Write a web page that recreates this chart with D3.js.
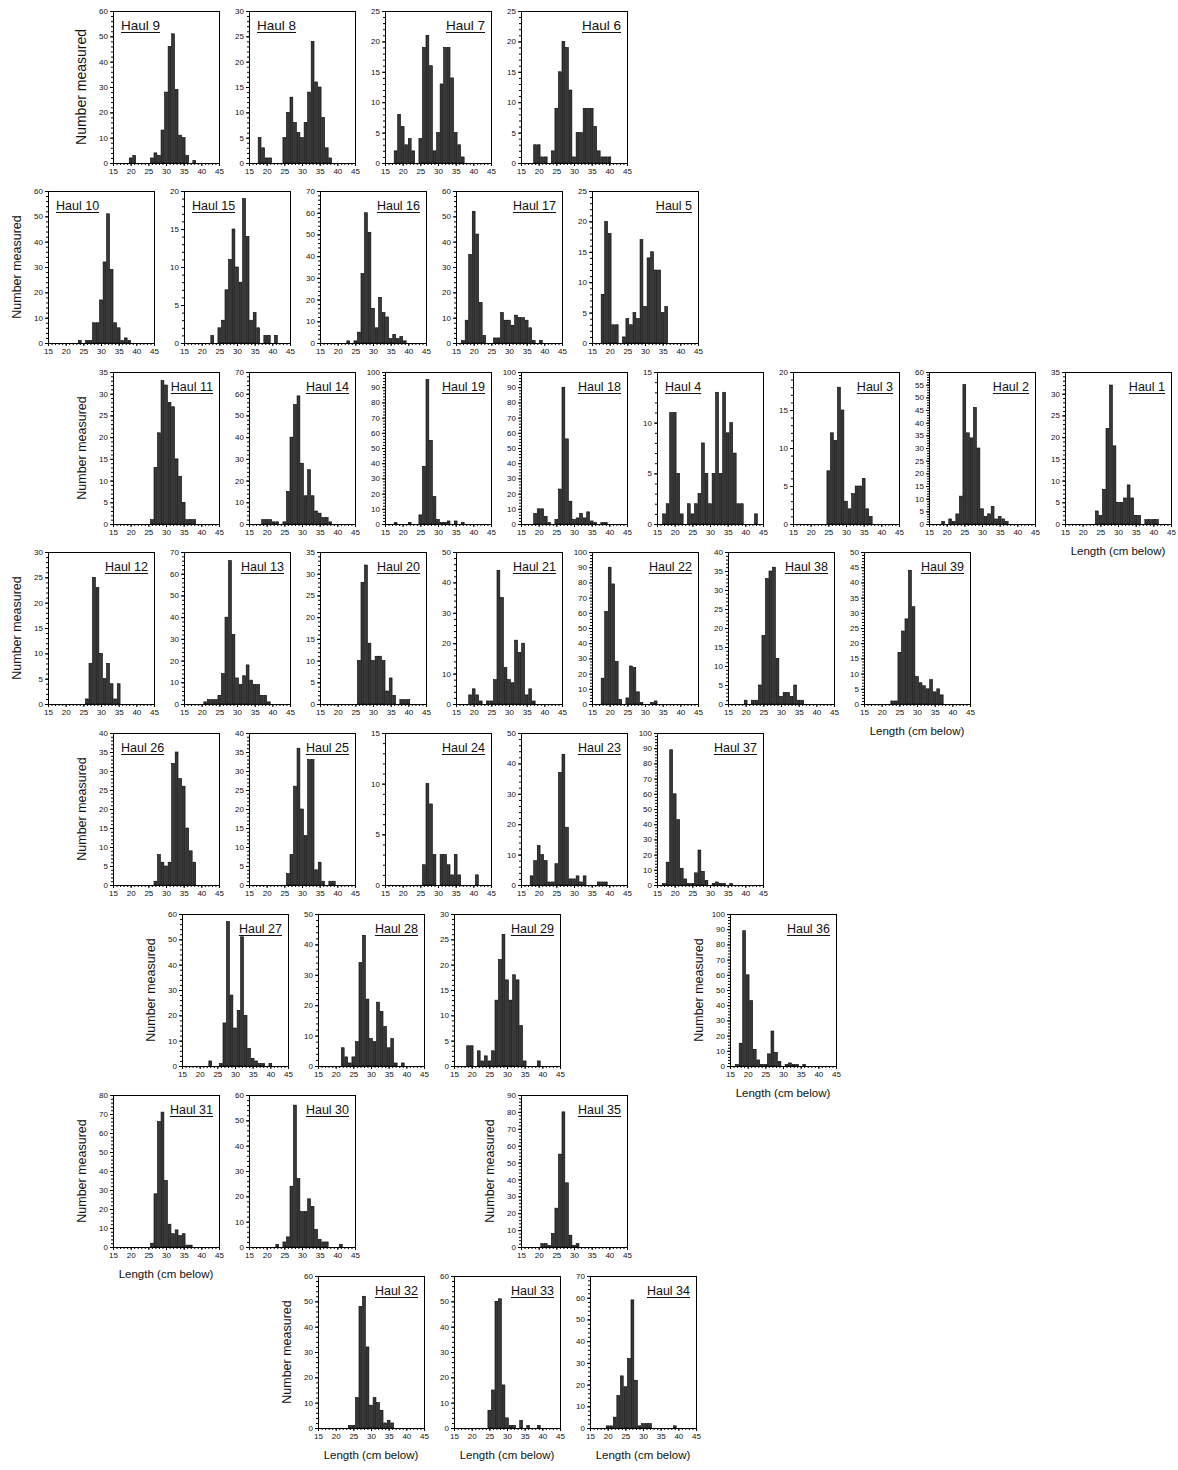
<!DOCTYPE html>
<html>
<head>
<meta charset="utf-8">
<script src="https://cdn.jsdelivr.net/npm/d3@7"></script>
<style>
  body { margin: 0; background: #fff; }
  svg { display: block; }
  text { font-family: "Liberation Sans", Arial, sans-serif; fill: #111; }
</style>
</head>
<body>
<svg id="chart" width="1178" height="1470"></svg>
<script>
// haul order, as the panels appear (row by row)
const hauls = [9, 8, 7, 6, 10, 15, 16, 17, 5, 11, 14, 19, 18, 4, 3, 2, 1,
  12, 13, 20, 21, 22, 38, 39, 26, 25, 24, 23, 37, 27, 28, 29, 36, 31, 30, 35, 32, 33, 34];

// y axis maximum and tick step per haul (same order)
const yMax = [60, 30, 25, 25, 60, 20, 70, 60, 25, 35, 70, 100, 100, 15, 20, 60, 35,
  30, 70, 35, 50, 100, 40, 50, 40, 40, 15, 50, 100, 60, 50, 30, 100, 80, 60, 90, 60, 60, 70];
const yStep = [10, 5, 5, 5, 10, 5, 10, 10, 5, 5, 10, 10, 10, 5, 5, 5, 5,
  5, 10, 5, 10, 10, 5, 5, 5, 5, 5, 10, 10, 10, 10, 5, 10, 10, 10, 10, 10, 10, 10];

// number measured per length class (cm), [length, count]
const counts = [
  [[20,2],[21,3],[26,2],[27,4],[28,3],[29,13],[30,28],[31,46],[32,51],[33,29],[34,11],[35,10],[36,3],[38,1]],
  [[18,5],[19,3],[20,1],[21,1],[25,5],[26,10],[27,13],[28,8],[29,6],[30,5],[31,8],[32,14],[33,24],[34,16],[35,15],[36,9],[37,3],[38,1]],
  [[18,2],[19,8],[20,6],[21,3],[22,4],[23,2],[25,4],[26,19],[27,21],[28,16],[29,2],[30,5],[31,13],[32,19],[33,19],[34,14],[35,5],[36,3],[37,1]],
  [[19,3],[20,3],[21,1],[22,1],[24,2],[25,9],[26,15],[27,20],[28,19],[29,12],[30,1],[31,5],[32,5],[33,9],[34,9],[35,9],[36,6],[37,2],[38,1],[39,1],[40,1]],
  [[24,1],[26,1],[27,1],[28,8],[29,8],[30,17],[31,32],[32,51],[33,29],[34,8],[35,6],[36,1],[37,2],[38,1]],
  [[23,1],[25,2],[26,3],[27,7],[28,11],[29,15],[30,10],[31,8],[32,19],[33,14],[34,3],[35,4],[36,2],[38,1],[39,1],[41,1]],
  [[23,1],[25,1],[26,5],[27,32],[28,60],[29,51],[30,16],[31,7],[32,21],[33,14],[34,12],[35,2],[36,4],[37,2],[38,3],[39,1]],
  [[17,1],[18,9],[19,35],[20,52],[21,43],[22,16],[23,3],[26,2],[27,2],[28,12],[29,9],[30,9],[31,7],[32,11],[33,10],[34,10],[35,9],[36,6],[37,1],[39,1]],
  [[18,8],[19,20],[20,18],[21,3],[22,3],[24,1],[25,4],[26,3],[27,5],[28,4],[29,17],[30,6],[31,14],[32,15],[33,12],[34,12],[35,5],[36,6]],
  [[26,1],[27,13],[28,21],[29,33],[30,32],[31,28],[32,27],[33,15],[34,11],[35,5],[36,1],[37,1],[38,1]],
  [[19,2],[20,2],[21,2],[22,1],[23,1],[25,1],[26,15],[27,40],[28,55],[29,59],[30,28],[31,13],[32,25],[33,13],[34,6],[35,5],[36,3],[37,3],[38,1]],
  [[18,1],[22,1],[25,6],[26,38],[27,95],[28,55],[29,18],[30,3],[31,1],[32,1],[33,2],[35,2],[37,1]],
  [[19,7],[20,10],[21,10],[22,5],[23,1],[25,3],[26,23],[27,90],[28,56],[29,15],[30,3],[31,4],[32,7],[33,4],[34,8],[35,2],[36,1],[38,1],[39,1]],
  [[17,1],[18,2],[19,11],[20,11],[21,5],[22,1],[24,2],[25,1],[26,2],[27,3],[28,8],[29,5],[30,2],[31,5],[32,13],[33,5],[34,13],[35,9],[36,10],[37,7],[38,2],[39,2],[43,1]],
  [[25,7],[26,12],[27,11],[28,18],[29,15],[30,3],[31,2],[32,4],[33,5],[34,5],[35,6],[36,2],[37,1]],
  [[19,1],[21,2],[22,1],[23,4],[24,11],[25,55],[26,36],[27,34],[28,46],[29,30],[30,6],[31,3],[32,4],[33,7],[34,2],[35,3],[36,2],[37,1]],
  [[24,3],[25,2],[26,8],[27,22],[28,32],[29,18],[30,5],[31,5],[32,6],[33,9],[34,6],[35,2],[36,2],[38,1],[39,1],[40,1],[41,1]],
  [[26,1],[27,8],[28,25],[29,23],[30,10],[31,5],[32,8],[33,4],[34,1],[35,4]],
  [[21,1],[22,2],[23,2],[24,2],[25,4],[26,14],[27,40],[28,66],[29,32],[30,12],[31,9],[32,13],[33,18],[34,11],[35,9],[36,9],[37,4],[38,4],[39,1]],
  [[26,10],[27,28],[28,32],[29,14],[30,10],[31,11],[32,11],[33,10],[34,3],[35,6],[36,2],[38,1],[39,1],[40,1]],
  [[19,3],[20,5],[21,3],[22,1],[24,1],[25,1],[26,8],[27,44],[28,35],[29,12],[30,8],[31,7],[32,21],[33,17],[34,20],[35,3],[36,5],[37,1]],
  [[18,17],[19,61],[20,90],[21,79],[22,28],[23,3],[25,4],[26,25],[27,24],[28,8],[29,1],[32,1],[33,2]],
  [[20,1],[22,1],[23,1],[24,5],[25,18],[26,33],[27,35],[28,36],[29,12],[30,2],[31,3],[32,3],[33,2],[34,5],[35,1],[36,1]],
  [[23,1],[24,1],[25,17],[26,24],[27,28],[28,44],[29,32],[30,9],[31,7],[32,6],[33,5],[34,8],[35,4],[36,5],[37,3]],
  [[27,1],[28,8],[29,6],[30,5],[31,6],[32,32],[33,35],[34,28],[35,26],[36,15],[37,9],[38,6]],
  [[26,3],[27,8],[28,26],[29,36],[30,20],[31,13],[32,33],[33,33],[34,4],[35,6],[36,1],[38,1],[39,1]],
  [[26,2],[27,10],[28,8],[29,3],[31,3],[32,3],[33,2],[34,1],[35,3],[36,1],[41,1]],
  [[18,3],[19,8],[20,13],[21,10],[22,8],[23,1],[24,1],[25,7],[26,37],[27,43],[28,19],[29,2],[30,2],[31,3],[32,1],[33,3],[37,1],[38,1],[39,1]],
  [[17,1],[18,15],[19,89],[20,60],[21,43],[22,11],[23,4],[24,1],[25,1],[26,8],[27,23],[28,9],[29,3],[31,1],[32,2],[33,1],[34,1],[36,1]],
  [[23,2],[26,1],[27,17],[28,57],[29,28],[30,15],[31,22],[32,51],[33,20],[34,7],[35,3],[36,2],[37,1],[38,1],[40,1]],
  [[22,6],[23,3],[24,1],[25,3],[26,8],[27,34],[28,43],[29,22],[30,9],[31,8],[32,21],[33,18],[34,13],[35,6],[36,9],[37,1],[39,1]],
  [[19,4],[20,4],[22,3],[23,1],[24,2],[25,1],[26,3],[27,13],[28,21],[29,26],[30,17],[31,13],[32,18],[33,17],[34,8],[35,1],[39,1]],
  [[17,1],[18,15],[19,89],[20,60],[21,43],[22,11],[23,4],[24,1],[25,1],[26,8],[27,23],[28,9],[29,3],[31,1],[32,2],[33,1],[34,1],[36,1]],
  [[26,2],[27,28],[28,66],[29,71],[30,35],[31,12],[32,7],[33,9],[34,6],[35,7],[36,1],[37,1]],
  [[23,1],[25,2],[26,4],[27,24],[28,56],[29,27],[30,14],[31,14],[32,19],[33,16],[34,7],[35,3],[36,2],[37,2],[41,1]],
  [[21,2],[22,2],[23,1],[24,8],[25,23],[26,55],[27,80],[28,38],[29,7],[30,1],[31,2]],
  [[24,1],[25,1],[26,12],[27,48],[28,52],[29,32],[30,9],[31,12],[32,10],[33,7],[34,2],[35,3],[36,2]],
  [[25,7],[26,15],[27,50],[28,51],[29,17],[30,4],[31,1],[32,1],[34,3],[36,1],[39,1]],
  [[20,1],[21,1],[22,5],[23,15],[24,24],[25,19],[26,32],[27,59],[28,22],[29,1],[30,2],[31,2],[32,2],[39,1]]
];

const xTicks = [15, 20, 25, 30, 35, 40, 45];
const yTitle = "Number measured";
const xTitle = "Length (cm below)";

// hauls whose label sits at the top left, and panels carrying axis titles
const labelLeft = new Set([9, 8, 10, 15, 4, 26]);
const withYTitle = new Set([9, 10, 11, 12, 26, 27, 36, 31, 35, 32]);
const withXTitle = new Set([1, 39, 36, 31, 32, 33, 34]);

// layout: row tops and panel left edges
const W = 106, H = 152;
const rows = [
  { top: 11,   lefts: [113, 249, 385, 521] },
  { top: 191,  lefts: [48, 184, 320, 456, 592] },
  { top: 372,  lefts: [113, 249, 385, 521, 657, 793, 929, 1065] },
  { top: 552,  lefts: [48, 184, 320, 456, 592, 728, 864] },
  { top: 733,  lefts: [113, 249, 385, 521, 657] },
  { top: 914,  lefts: [182, 318, 454, 730] },
  { top: 1095, lefts: [113, 249, 521] },
  { top: 1276, lefts: [318, 454, 590] }
];

const svg = d3.select("#chart");
const x = d3.scaleLinear().domain([15, 45]).range([0, W]);
const barW = x(15.8) - x(15);

let idx = 0;
rows.forEach((row, r) => {
  row.lefts.forEach(left => {
    const i = idx++;
    const haul = hauls[i];
    const y = d3.scaleLinear().domain([0, yMax[i]]).range([H, 0]);
    const g = svg.append("g").attr("transform", `translate(${left},${row.top})`);
    const big = r === 0;

    // minor ticks
    g.append("g")
        .attr("transform", `translate(0,${H})`)
        .call(d3.axisBottom(x).tickValues(d3.range(15, 46)).tickSize(2).tickFormat(""))
        .call(a => a.select(".domain").remove());
    g.append("g")
        .call(d3.axisLeft(y).tickValues(d3.range(0, yMax[i] + 0.01, yStep[i] / 5)).tickSize(2).tickFormat(""))
        .call(a => a.select(".domain").remove());

    // major ticks + labels
    g.append("g")
        .attr("transform", `translate(0,${H})`)
        .call(d3.axisBottom(x).tickValues(xTicks).tickSize(3).tickPadding(2))
        .call(a => a.select(".domain").remove())
        .call(a => a.selectAll("text").attr("font-size", 8).attr("fill", "#222"));
    g.append("g")
        .call(d3.axisLeft(y).tickValues(d3.range(0, yMax[i] + 0.01, yStep[i])).tickSize(3).tickPadding(2))
        .call(a => a.select(".domain").remove())
        .call(a => a.selectAll("text").attr("font-size", 8).attr("fill", "#222"));

    g.append("rect")
        .attr("x", 0.5).attr("y", 0.5)
        .attr("width", W).attr("height", H)
        .attr("fill", "none").attr("stroke", "#000").attr("stroke-width", 1);

    g.append("g").selectAll("rect")
      .data(counts[i])
      .join("rect")
        .attr("x", d => x(d[0]) - barW / 2)
        .attr("y", d => y(d[1]))
        .attr("width", barW)
        .attr("height", d => H - y(d[1]))
        .attr("fill", "#383838")
        .attr("stroke", "#000")
        .attr("stroke-width", 0.6);

    // haul label, underlined
    const left_ = labelLeft.has(haul);
    const fs = big ? 13.5 : 12.5;
    const lbl = g.append("text")
        .attr("x", left_ ? 8 : W - 6)
        .attr("y", 19)
        .attr("text-anchor", left_ ? "start" : "end")
        .attr("font-size", fs)
        .text(`Haul ${haul}`);
    const len = lbl.node().getComputedTextLength();
    const ux = left_ ? 8 : W - 6 - len;
    g.append("line")
        .attr("x1", ux).attr("x2", ux + len)
        .attr("y1", 21.5).attr("y2", 21.5)
        .attr("stroke", "#111").attr("stroke-width", 1);

    if (withYTitle.has(haul)) {
      g.append("text")
          .attr("transform", `translate(-27,${H / 2}) rotate(-90)`)
          .attr("text-anchor", "middle")
          .attr("font-size", big ? 14 : 12.5)
          .text(yTitle);
    }
    if (withXTitle.has(haul)) {
      g.append("text")
          .attr("x", W / 2)
          .attr("y", H + 31)
          .attr("text-anchor", "middle")
          .attr("font-size", 11.5)
          .text(xTitle);
    }
  });
});
</script>
</body>
</html>
